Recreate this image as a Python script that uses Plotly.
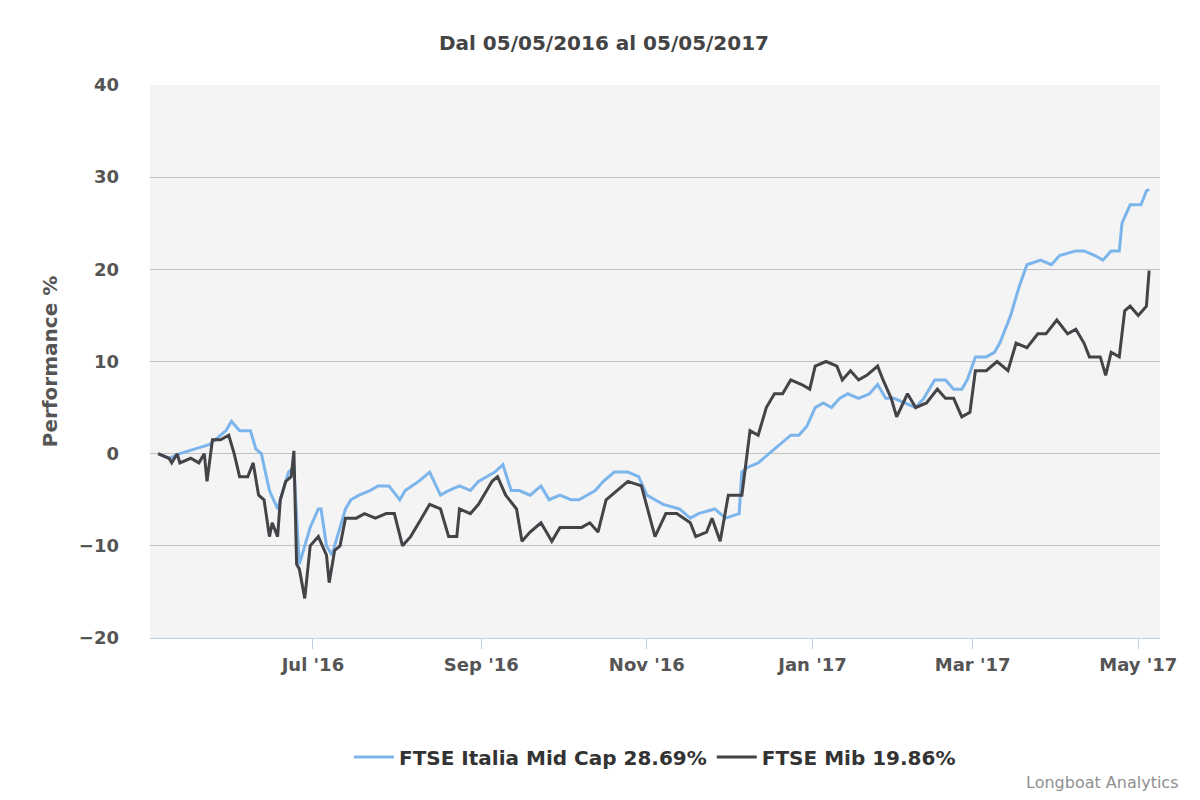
import pandas as pd
import plotly.graph_objects as go

start = pd.Timestamp("2016-05-05")

# days since 05/05/2016 and performance %
mid_days = [0, 4, 8, 14, 19, 25, 27, 30, 34, 36, 38, 41, 44, 47, 48, 50, 52, 56, 59, 60,
            62, 64, 66, 69, 71, 74, 78, 81, 85, 89, 91, 96, 100, 104, 107, 111, 115, 118, 124, 127,
            130, 133, 137, 141, 144, 148, 152, 155, 161, 164, 168, 173, 177, 180, 183, 186, 192, 196, 199, 205,
            209, 214, 215, 217, 221, 225, 229, 233, 236, 239, 242, 245, 248, 251, 254, 258, 262, 265, 268, 271,
            275, 279, 282, 286, 290, 293, 296, 298, 301, 305, 308, 310, 314, 317, 320, 325, 329, 332, 338, 341,
            345, 348, 351, 354, 355, 358, 362, 364, 365]
mid_vals = [0, -0.5, 0, 0.5, 1, 2.5, 3.5, 2.5, 2.5, 0.5, 0, -4, -6, -3, -2, -1.5, -12, -8, -6, -6,
            -10, -11, -9, -6, -5, -4.5, -4, -3.5, -3.5, -5, -4, -3, -2, -4.5, -4, -3.5, -4, -3, -2, -1.2,
            -4, -4, -4.5, -3.5, -5, -4.5, -5, -5, -4, -3, -2, -2, -2.5, -4.5, -5, -5.5, -6, -7, -6.5, -6,
            -7, -6.5, -2, -1.5, -1, 0, 1, 2, 2, 3, 5, 5.5, 5, 6, 6.5, 6, 6.5, 7.5, 6, 6,
            5.5, 5, 6, 8, 8, 7, 7, 8, 10.5, 10.5, 11, 12, 15, 18, 20.5, 21, 20.5, 21.5, 22, 22,
            21.5, 21, 22, 22, 25, 27, 27, 28.5, 28.69]

mib_days = [0, 4, 5, 7, 8, 12, 15, 17, 18, 20, 23, 26, 28, 30, 33, 35, 37, 39, 41, 42,
            44, 45, 47, 49, 50, 51, 52, 54, 56, 59, 62, 63, 65, 67, 69, 73, 76, 80, 84, 87,
            90, 93, 97, 100, 104, 107, 110, 111, 115, 118, 121, 123, 125, 128, 132, 134, 137, 141, 145, 148,
            152, 156, 159, 162, 165, 169, 173, 178, 182, 183, 187, 191, 196, 198, 202, 204, 207, 210, 215, 217,
            218, 221, 224, 227, 230, 233, 237, 240, 242, 246, 250, 252, 255, 258, 261, 265, 267, 270, 272, 276,
            279, 283, 287, 290, 293, 296, 299, 301, 305, 309, 313, 316, 320, 324, 327, 331, 335, 338, 341, 343,
            347, 349, 351, 354, 356, 358, 361, 364, 365]
mib_vals = [0, -0.5, -1, 0, -1, -0.5, -1, 0, -3, 1.5, 1.5, 2, 0, -2.5, -2.5, -1, -4.5, -5, -9, -7.5,
            -9, -5, -3, -2.5, 0.3, -12, -12.5, -15.7, -10, -9, -11, -14, -10.5, -10, -7, -7, -6.5, -7, -6.5, -6.5,
            -10, -9, -7, -5.5, -6, -9, -9, -6, -6.5, -5.5, -4, -3, -2.5, -4.5, -6, -9.5, -8.5, -7.5, -9.5, -8,
            -8, -8, -7.5, -8.5, -5, -4, -3, -3.5, -8, -9, -6.5, -6.5, -7.5, -9, -8.5, -7, -9.5, -4.5, -4.5, 0,
            2.5, 2, 5, 6.5, 6.5, 8, 7.5, 7, 9.5, 10, 9.5, 8, 9, 8, 8.5, 9.5, 8, 6, 4, 6.5,
            5, 5.5, 7, 6, 6, 4, 4.5, 9, 9, 10, 9, 12, 11.5, 13, 13, 14.5, 13, 13.5, 12, 10.5,
            10.5, 8.5, 11, 10.5, 15.5, 16, 15, 16, 19.86]

to_dates = lambda d: [start + pd.Timedelta(days=x) for x in d]

fig = go.Figure()
fig.add_trace(go.Scatter(x=to_dates(mid_days), y=mid_vals, mode="lines",
                         name="<b>FTSE Italia Mid Cap 28.69%</b>", line=dict(color="#7cb5ec", width=3)))
fig.add_trace(go.Scatter(x=to_dates(mib_days), y=mib_vals, mode="lines",
                         name="<b>FTSE Mib 19.86%</b>", line=dict(color="#434348", width=3)))

font_color = "#555555"
fig.update_layout(
    width=1192, height=792,
    margin=dict(l=142, r=40, t=77, b=162),
    paper_bgcolor="white", plot_bgcolor="#f4f4f4",
    font=dict(family="DejaVu Sans", color=font_color),
    title=dict(text="<b>Dal 05/05/2016 al 05/05/2017</b>", x=0.5, xanchor="center", y=0.965,
               font=dict(size=20, color="#444444")),
    xaxis=dict(range=[pd.Timestamp("2016-05-02"), pd.Timestamp("2017-05-09")],
               tick0="2016-07-01", dtick="M2", tickformat="<b>%b '%y</b>",
               showgrid=False, ticks="outside", ticklen=10, tickcolor="#c0d0e0",
               showline=True, linecolor="#c0d0e0", linewidth=1,
               tickfont=dict(size=18, color=font_color), zeroline=False),
    yaxis=dict(range=[-20, 40], dtick=10, gridcolor="#c0c0c0", gridwidth=1, zeroline=False,
               tickprefix="<b>", ticksuffix="</b>",
               title=dict(text="<b>Performance %</b>", font=dict(size=20, color=font_color)),
               tickfont=dict(size=18, color=font_color), ticklabelstandoff=30),
    legend=dict(orientation="h", x=0.5, xanchor="center", y=-0.18, yanchor="top",
                font=dict(size=20, color="#333333"), itemwidth=40),
    showlegend=True,
)
fig.add_annotation(text="Longboat Analytics", xref="paper", yref="paper", x=1.02, y=-0.262,
                   xanchor="right", yanchor="middle", showarrow=False,
                   font=dict(size=16, color="#909090"))

fig.write_html("out.html")
